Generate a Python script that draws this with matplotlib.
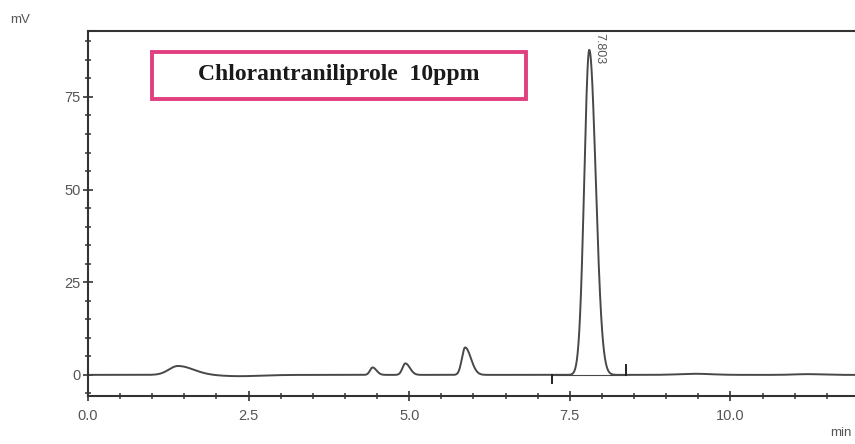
import numpy as np
import matplotlib
matplotlib.use("Agg")
import matplotlib.pyplot as plt
from matplotlib.patches import Rectangle
from matplotlib.ticker import MultipleLocator, FormatStrFormatter

# Peak table (retention time min, height mV, left/right sigma min)
peak_rt = [1.40, 2.35, 4.43, 4.94, 5.87, 7.803, 9.45, 11.20]
peak_height = [2.4, -0.35, 2.0, 3.1, 7.4, 87.7, 0.3, 0.2]
peak_sigma_left = [0.14, 0.30, 0.04, 0.045, 0.05, 0.078, 0.25, 0.2]
peak_sigma_right = [0.24, 0.35, 0.06, 0.07, 0.09, 0.100, 0.25, 0.2]

# integration markers (start, end) of the labelled peak
mark_start = 7.23
mark_end = 8.38
peak_label = "7.803"
title_text = "Chlorantraniliprole  10ppm"

xticks = [0.0, 2.5, 5.0, 7.5, 10.0]
yticks = [0, 25, 50, 75]

t = np.linspace(0, 12, 4000)
signal = np.zeros_like(t)
for rt, h, sl, sr in zip(peak_rt, peak_height, peak_sigma_left, peak_sigma_right):
    s = np.where(t < rt, sl, sr)
    signal += h * np.exp(-0.5 * ((t - rt) / s) ** 2)

fig = plt.figure(figsize=(8.55, 4.44), dpi=100)
ax = fig.add_axes([88/855, 1-396/444, (857-88)/855, (396-31)/444])

trace_col = "#484848"
ax.plot(t, signal, color=trace_col, lw=1.4)
# integration baseline and markers
ax.plot([mark_start, mark_end], [0, 0], color=trace_col, lw=0.8)
ax.plot([mark_start, mark_start], [0, -2.2], color="#222222", lw=1.4)
ax.plot([mark_end, mark_end], [0, 2.6], color="#222222", lw=1.4)

ax.text(7.803 + 0.15, 92.3, peak_label, rotation=270, ha="center", va="top",
        fontsize=9, color="#555555", family="Liberation Sans")

ax.set_xlim(0, 11.97)
ax.set_ylim(-5.7, 92.8)
ax.set_xticks(xticks)
ax.set_yticks(yticks)
ax.xaxis.set_major_formatter(FormatStrFormatter("%.1f"))
ax.xaxis.set_minor_locator(MultipleLocator(0.5))
ax.yaxis.set_minor_locator(MultipleLocator(5))
ax.tick_params(which="major", direction="inout", length=7, width=1.2, colors="#333333",
               labelcolor="#555555", labelsize=10.5)
ax.tick_params(axis="x", which="major", pad=6)
ax.tick_params(axis="y", which="major", pad=2)
ax.tick_params(which="minor", direction="inout", length=4.5, width=1.1, colors="#333333")
for lab in ax.get_xticklabels() + ax.get_yticklabels():
    lab.set_family("Liberation Sans")
for sp in ax.spines.values():
    sp.set_color("#333333")
    sp.set_linewidth(1.5)

fig.text(10/855, 1-20/444, "mV", fontsize=9.5, color="#555555", ha="left", va="center",
         family="Liberation Sans")
fig.text(830/855, 1-433/444, "min", fontsize=9.5, color="#555555", ha="left", va="center",
         family="Liberation Sans")

# title box
box_x0, box_x1 = 1.0, 6.81
box_y0, box_y1 = 74.5, 87.1
ax.add_patch(Rectangle((box_x0, box_y0), box_x1 - box_x0, box_y1 - box_y0,
                       fc="white", ec="#e0407f", lw=2.8, zorder=3))
ax.text((box_x0 + box_x1) / 2, (box_y0 + box_y1) / 2 + 0.3, title_text, ha="center",
        va="center", fontsize=17, fontweight="bold", family="Liberation Serif",
        color="#1a1a1a", zorder=4)

fig.savefig("out.png", dpi=100)
